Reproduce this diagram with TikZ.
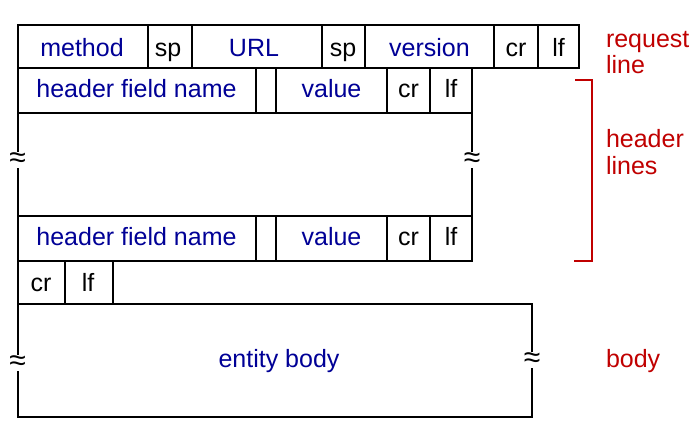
\documentclass[tikz,border=0pt]{standalone}
\usepackage{fontspec}
\setmainfont{Liberation Sans}
\definecolor{fblue}{RGB}{0,0,150}
\definecolor{lred}{RGB}{192,0,0}
\begin{document}
\begin{tikzpicture}[x=1pt,y=-1pt,line width=2pt,
  ftxt/.style={anchor=base,font=\fontsize{25}{29}\selectfont,inner sep=0pt},
  bl/.style={ftxt,text=fblue},
  bk/.style={ftxt,text=black},
  rd/.style={ftxt,text=lred,anchor=base west},
  wave/.style={fill=white,inner sep=0.3pt,font=\fontsize{30}{30}\selectfont}]
\useasboundingbox (0,0) rectangle (698,443);
% request line
\draw (18,25) rectangle (579,68);
\foreach \x in {148,192,322,365,494,538} \draw (\x,25) -- (\x,68);
% header line 1
\draw (17.5,68) rectangle (472,113);
\foreach \x in {256,276,387,430} \draw (\x,68) -- (\x,113);
% middle
\draw (17.5,113) -- (17.5,216);
\draw (472,113) -- (472,216);
% header line 2
\draw (17.5,216) rectangle (472,261);
\foreach \x in {256,276,387,430} \draw (\x,216) -- (\x,261);
% cr lf
\draw (17.5,261) rectangle (113,304);
\draw (65,261) -- (65,304);
% body
\draw (17.5,304) rectangle (532,417);
% texts row 1
\node[bl] (method) at (82,57) {method};
\node[bk] (sp1) at (168,57) {sp};
\node[bl] (url) at (254,57) {URL};
\node[bk] (sp2) at (343,57) {sp};
\node[bl] (version) at (429.5,57) {version};
\node[bk] (cr1) at (516,57) {cr};
\node[bk] (lf1) at (558.5,57) {lf};
% row 2
\node[bl] (hfn1) at (136.5,98) {header field name};
\node[bl] (val1) at (331.5,98) {value};
\node[bk] (cr2) at (408.5,98) {cr};
\node[bk] (lf2) at (451,98) {lf};
% row 4
\node[bl] (hfn2) at (136.5,246) {header field name};
\node[bl] (val2) at (331.5,246) {value};
\node[bk] (cr3) at (408.5,246) {cr};
\node[bk] (lf3) at (451,246) {lf};
% row 5
\node[bk] (cr4) at (41,292) {cr};
\node[bk] (lf4) at (88,292) {lf};
\node[bl] (ebody) at (279,367) {entity body};
% waves
\node[wave] (w1) at (17.5,160) {≈};
\node[wave] (w2) at (472,160) {≈};
\node[wave] (w3) at (17.5,363) {≈};
\node[wave] (w4) at (532,360) {≈};
% bracket
\draw[lred] (575,80) -- (592,80) -- (592,261) -- (574,261);
% labels
\node[rd] (req1) at (605,48) {request};
\node[rd] (req2) at (605,74) {line};
\node[rd] (hl1) at (605,148) {header};
\node[rd] (hl2) at (605,175) {lines};
\node[rd] (bd) at (605,367) {body};
\end{tikzpicture}
\end{document}
